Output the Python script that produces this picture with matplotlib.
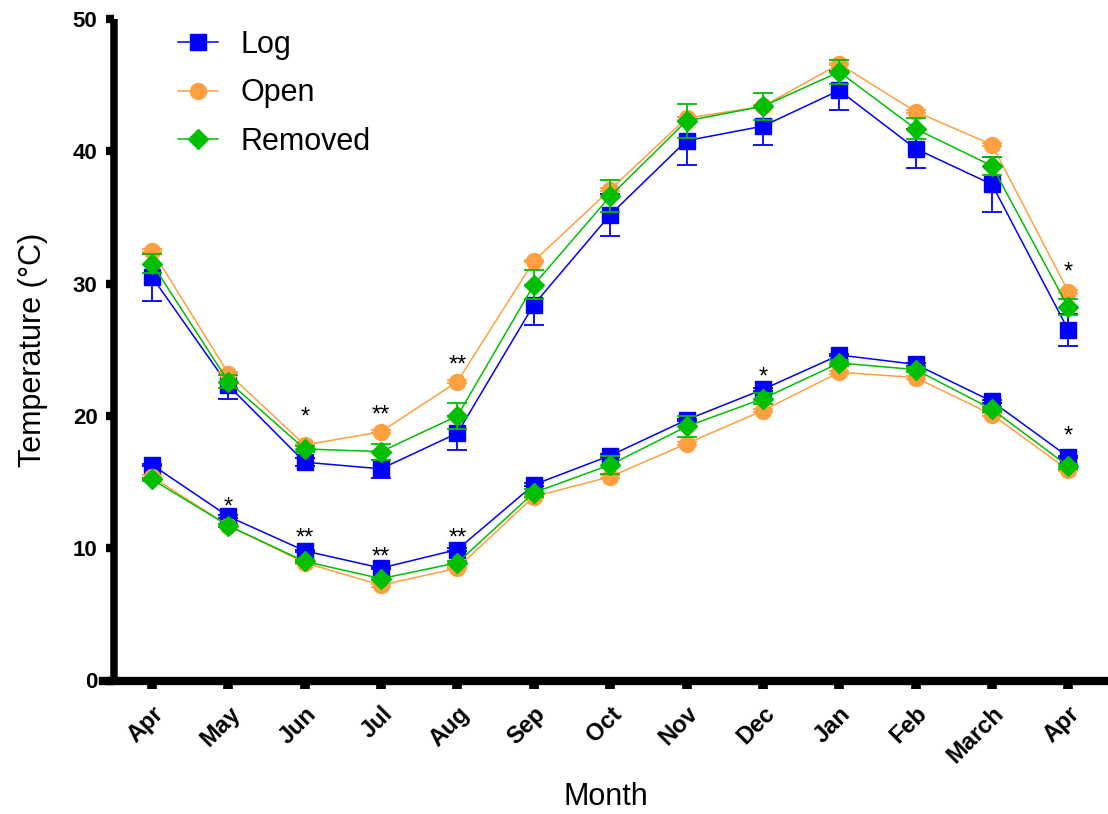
import matplotlib
matplotlib.use("Agg")
import matplotlib.pyplot as plt
import numpy as np

plt.rcParams['font.family'] = ['Liberation Sans', 'DejaVu Sans']

months = ['Apr', 'May', 'Jun', 'Jul', 'Aug', 'Sep', 'Oct', 'Nov', 'Dec', 'Jan', 'Feb', 'March', 'Apr']

# maximum temperatures
log_max = [30.5, 22.3, 16.5, 16.0, 18.7, 28.4, 35.2, 40.8, 41.9, 44.6, 40.2, 37.5, 26.5]
log_max_err = [1.8, 1.0, 0.3, 0.7, 1.3, 1.5, 1.6, 1.8, 1.4, 1.5, 1.5, 2.1, 1.2]
open_max = [32.5, 23.2, 17.8, 18.8, 22.6, 31.7, 37.1, 42.5, 43.4, 46.6, 43.0, 40.5, 29.4]
open_max_err = [0.1, 0.1, 0.1, 0.1, 0.1, 0.1, 0.1, 0.1, 0.1, 0.1, 0.1, 0.1, 0.1]
rem_max = [31.5, 22.6, 17.5, 17.3, 20.0, 29.9, 36.6, 42.3, 43.4, 46.0, 41.7, 38.9, 28.2]
rem_max_err = [0.7, 0.5, 0.2, 0.6, 1.0, 1.1, 1.2, 1.3, 1.0, 0.9, 0.8, 0.7, 0.6]

# minimum temperatures
log_min = [16.3, 12.4, 9.8, 8.5, 9.9, 14.8, 17.0, 19.7, 22.0, 24.6, 23.9, 21.1, 16.9]
log_min_err = [0.1, 0.1, 0.1, 0.1, 0.1, 0.1, 0.1, 0.1, 0.1, 0.1, 0.1, 0.1, 0.1]
open_min = [15.4, 11.7, 8.9, 7.2, 8.5, 13.9, 15.4, 17.9, 20.4, 23.3, 22.9, 20.1, 15.9]
open_min_err = [0.1, 0.1, 0.1, 0.1, 0.1, 0.1, 0.1, 0.1, 0.1, 0.1, 0.1, 0.1, 0.1]
rem_min = [15.2, 11.7, 9.0, 7.7, 8.9, 14.2, 16.3, 19.2, 21.3, 24.0, 23.5, 20.5, 16.2]
rem_min_err = [0.1, 0.1, 0.1, 0.1, 0.1, 0.3, 0.7, 0.8, 0.4, 0.2, 0.2, 0.2, 0.2]

# significance marks (month index, label centre, text)
star_idx = [2, 3, 4, 12, 1, 2, 3, 4, 8, 12]
star_y = [20.4, 20.5, 24.3, 31.3, 13.6, 11.2, 9.8, 11.2, 23.4, 18.9]
star_txt = ['*', '**', '**', '*', '*', '**', '**', '**', '*', '*']

colors = {'Log': '#0000FF', 'Open': '#FFA040', 'Removed': '#00BE00'}
markers = {'Log': 's', 'Open': 'o', 'Removed': 'D'}
msizes = {'Log': 11.5, 'Open': 11.5, 'Removed': 10}

fig = plt.figure(figsize=(11.08, 8.14), dpi=100)
ax = fig.add_axes([103 / 1108, 1 - 680.5 / 814, 1005 / 1108, (680.5 - 19) / 814])

x = np.arange(len(months))
series = [
    ('Log', log_max, log_max_err, log_min, log_min_err),
    ('Open', open_max, open_max_err, open_min, open_min_err),
    ('Removed', rem_max, rem_max_err, rem_min, rem_min_err),
]
handles = []
for k, (name, ymax, emax, ymin, emin) in enumerate(series):
    c = colors[name]
    for ys, es in [(ymax, emax), (ymin, emin)]:
        cont = ax.errorbar(x, ys, yerr=es, fmt='-', marker=markers[name], color=c,
                           ms=msizes[name], mec=c, lw=1.1, elinewidth=1.3,
                           capsize=7.5, capthick=1.3, zorder=3 + k, clip_on=False)
    handles.append(cont[0])

for i, yv, t in zip(star_idx, star_y, star_txt):
    ax.text(x[i], yv - 0.95, t, ha='center', va='baseline', fontsize=17, color='black')

ax.set_xlim(-0.642, 12.52)
ax.set_ylim(0, 50)
ax.spines['left'].set_position(('data', -0.504))
ax.spines['right'].set_visible(False)
ax.spines['top'].set_visible(False)
ax.spines['left'].set_linewidth(5.4)
ax.spines['bottom'].set_linewidth(6.0)
ax.spines['left'].set_capstyle('butt')

ax.set_xticks(x)
ax.set_xticklabels(months, rotation=45, ha='right', rotation_mode='anchor',
                   fontsize=17, fontweight='bold')
ax.set_yticks([0, 10, 20, 30, 40, 50])
ax.set_yticklabels(['0', '10', '20', '30', '40', '50'], fontsize=16, fontweight='bold')
ax.tick_params(axis='x', length=5.5, width=7, pad=10, direction='out')
ax.tick_params(axis='y', length=5.5, width=6, pad=6, direction='out')

ax.set_ylabel('Temperature (°C)', fontsize=22, labelpad=18)
ax.set_xlabel('Month', fontsize=22, labelpad=10)

ax.legend(handles, ['Log', 'Open', 'Removed'], loc='upper left',
          bbox_to_anchor=(178 / 1108, 1 - 30 / 814), bbox_transform=fig.transFigure,
          frameon=False, fontsize=22, handlelength=1.3, handletextpad=0.75,
          labelspacing=0.6, borderpad=0, borderaxespad=0)

fig.savefig('out.png', dpi=100)
